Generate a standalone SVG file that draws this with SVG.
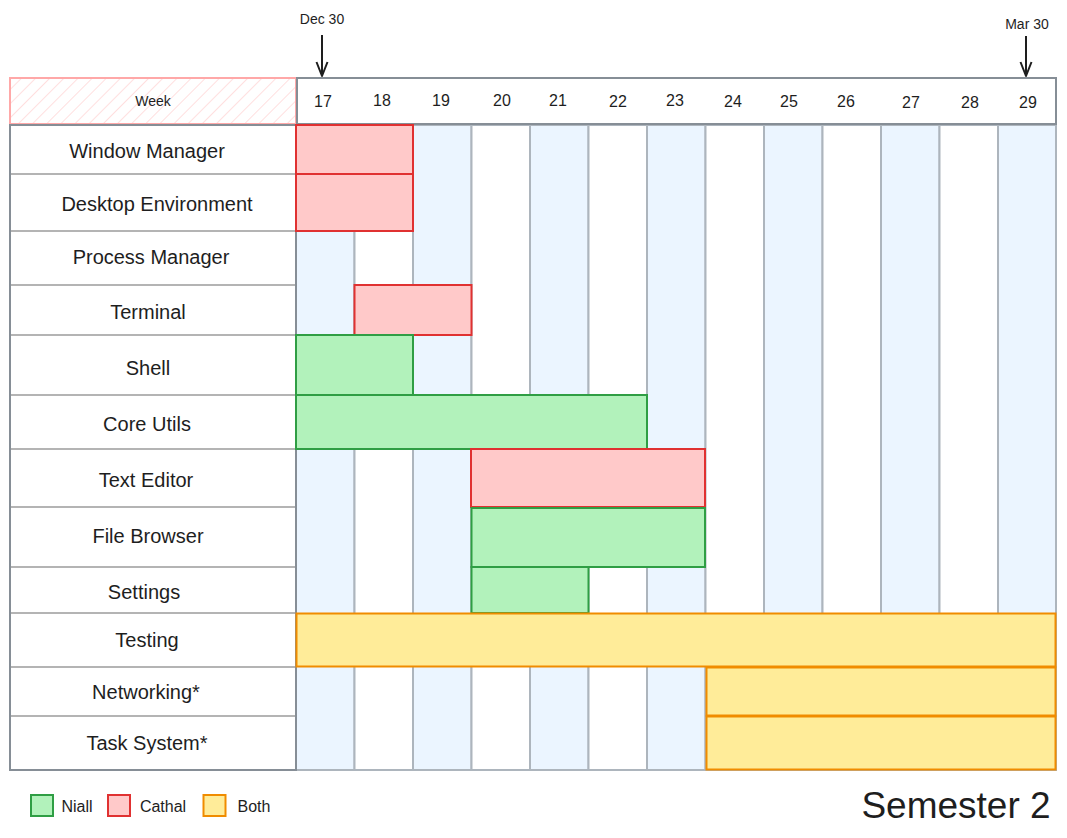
<svg xmlns="http://www.w3.org/2000/svg" width="1067" height="838" viewBox="0 0 1067 838">
<defs>
<style>
.t{font-family:"Liberation Sans",Arial,sans-serif;fill:#1e1e1e;text-anchor:middle;dominant-baseline:central}
.lbl{font-size:20px}
.num{font-size:16px}
.colB{fill:#ebf5ff;stroke:#adb5bd;stroke-width:2}
.colW{fill:#ffffff;stroke:#adb5bd;stroke-width:2}
.sep{stroke:#b4b4b4;stroke-width:2}
.red{fill:#ffc9c9;stroke:#e03131;stroke-width:2}
.green{fill:#b2f2bb;stroke:#2f9e44;stroke-width:2}
.yellow{fill:#ffec99;stroke:#f08c00;stroke-width:2}
.arrow{stroke:#1e1e1e;stroke-width:2;fill:none}
</style>
<pattern id="hatch" width="10" height="10" patternUnits="userSpaceOnUse" patternTransform="rotate(45)">
<line x1="0" y1="0" x2="0" y2="10" stroke="#ffc9c9" stroke-width="1.2"/>
</pattern>
<marker id="ah" viewBox="0 0 16 14" refX="15" refY="7" markerWidth="16" markerHeight="14" markerUnits="userSpaceOnUse" orient="auto">
<path d="M1,1.5 L15,7 L1,12.5" fill="none" stroke="#1e1e1e" stroke-width="2" stroke-linejoin="round"/>
</marker>
</defs>
<rect width="1067" height="838" fill="#ffffff"/>

<g id="columns">
<rect class="colB" x="296" y="125" width="58.5" height="645"/>
<rect class="colW" x="354.5" y="125" width="58.5" height="645"/>
<rect class="colB" x="413" y="125" width="58.5" height="645"/>
<rect class="colW" x="471.5" y="125" width="58.5" height="645"/>
<rect class="colB" x="530" y="125" width="58.5" height="645"/>
<rect class="colW" x="588.5" y="125" width="58.5" height="645"/>
<rect class="colB" x="647" y="125" width="58.5" height="645"/>
<rect class="colW" x="705.5" y="125" width="58.5" height="645"/>
<rect class="colB" x="764" y="125" width="58.5" height="645"/>
<rect class="colW" x="822.5" y="125" width="58.5" height="645"/>
<rect class="colB" x="881" y="125" width="58.5" height="645"/>
<rect class="colW" x="939.5" y="125" width="58.5" height="645"/>
<rect class="colB" x="998" y="125" width="58" height="645"/>
</g>

<g id="header-week">
<rect x="10" y="78" width="286" height="46" fill="url(#hatch)" stroke="#ffa8a8" stroke-width="2"/>
<text class="t" x="153" y="101" font-size="14">Week</text>
</g>

<g id="header-numbers">
<rect x="297" y="78" width="759" height="46" fill="#ffffff" stroke="#868e96" stroke-width="2"/>
<text class="t num" x="323" y="101">17</text>
<text class="t num" x="382" y="100">18</text>
<text class="t num" x="441" y="100">19</text>
<text class="t num" x="502" y="100">20</text>
<text class="t num" x="558" y="100">21</text>
<text class="t num" x="618" y="101">22</text>
<text class="t num" x="675" y="100">23</text>
<text class="t num" x="733" y="101">24</text>
<text class="t num" x="789" y="101">25</text>
<text class="t num" x="846" y="101">26</text>
<text class="t num" x="911" y="102">27</text>
<text class="t num" x="970" y="102">28</text>
<text class="t num" x="1028" y="102">29</text>
</g>

<g id="labels-table">
<rect x="10" y="125" width="286" height="645" fill="#ffffff" stroke="#868e96" stroke-width="2"/>
<line class="sep" x1="11" y1="174" x2="295" y2="174"/>
<line class="sep" x1="11" y1="231" x2="295" y2="231"/>
<line class="sep" x1="11" y1="285" x2="295" y2="285"/>
<line class="sep" x1="11" y1="335" x2="295" y2="335"/>
<line class="sep" x1="11" y1="395" x2="295" y2="395"/>
<line class="sep" x1="11" y1="449" x2="295" y2="449"/>
<line class="sep" x1="11" y1="507" x2="295" y2="507"/>
<line class="sep" x1="11" y1="567" x2="295" y2="567"/>
<line class="sep" x1="11" y1="613" x2="295" y2="613"/>
<line class="sep" x1="11" y1="667" x2="295" y2="667"/>
<line class="sep" x1="11" y1="716" x2="295" y2="716"/>
</g>

<g id="row-window-manager"><text class="t lbl" x="147" y="151">Window Manager</text><rect class="red" x="296" y="125" width="117" height="49"/></g>
<g id="row-desktop-environment"><text class="t lbl" x="157" y="204">Desktop Environment</text><rect class="red" x="296" y="174" width="117" height="57"/></g>
<g id="row-process-manager"><text class="t lbl" x="151" y="257">Process Manager</text></g>
<g id="row-terminal"><text class="t lbl" x="148" y="312">Terminal</text><rect class="red" x="354.5" y="285" width="117" height="50"/></g>
<g id="row-shell"><text class="t lbl" x="148" y="368">Shell</text><rect class="green" x="296" y="335" width="117" height="60"/></g>
<g id="row-core-utils"><text class="t lbl" x="147" y="424">Core Utils</text><rect class="green" x="296" y="395" width="351" height="54"/></g>
<g id="row-text-editor"><text class="t lbl" x="146" y="480">Text Editor</text><rect class="red" x="471" y="449" width="234" height="58"/></g>
<g id="row-file-browser"><text class="t lbl" x="148" y="536">File Browser</text><rect class="green" x="471.5" y="508" width="233.5" height="59"/></g>
<g id="row-settings"><text class="t lbl" x="144" y="592">Settings</text><rect class="green" x="471.5" y="567" width="117" height="46"/></g>
<g id="row-testing"><text class="t lbl" x="147" y="640">Testing</text><rect class="yellow" x="296.5" y="613.5" width="759" height="53"/></g>
<g id="row-networking"><text class="t lbl" x="146" y="692">Networking*</text><rect class="yellow" x="706.5" y="667.5" width="349" height="48"/></g>
<g id="row-task-system"><text class="t lbl" x="147" y="743">Task System*</text><rect class="yellow" x="706.5" y="716.5" width="349" height="53"/></g>

<g id="connectors">
<line class="arrow" x1="322" y1="35" x2="322" y2="76" marker-end="url(#ah)"/>
<line class="arrow" x1="1026" y1="36" x2="1026" y2="76" marker-end="url(#ah)"/>
</g>

<g id="marker-dec30"><text class="t" x="322" y="19" font-size="14">Dec 30</text></g>
<g id="marker-mar30"><text class="t" x="1027" y="24" font-size="14">Mar 30</text></g>

<g id="legend">
<rect class="green" x="31" y="795" width="22" height="21"/>
<text class="t" x="77" y="806" font-size="16">Niall</text>
<rect class="red" x="108" y="795" width="22" height="21"/>
<text class="t" x="163" y="806" font-size="16">Cathal</text>
<rect class="yellow" x="203.5" y="795" width="22" height="21"/>
<text class="t" x="254" y="806" font-size="16">Both</text>
</g>

<g id="title"><text class="t" x="956" y="805" font-size="37">Semester 2</text></g>
</svg>
